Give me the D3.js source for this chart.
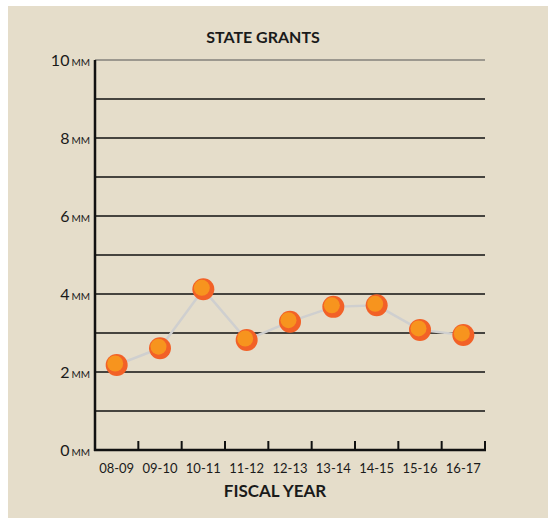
<!DOCTYPE html>
<html><head><meta charset="utf-8">
<script src="https://cdn.jsdelivr.net/npm/d3@7"></script>
<style>body{margin:0;background:#fff}svg{display:block}text{font-family:Lato,"Open Sans",sans-serif;fill:#1a1a1a}</style>
</head><body><svg id="c" width="548" height="518"></svg>
<script>
const years = ["08-09","09-10","10-11","11-12","12-13","13-14","14-15","15-16","16-17"];
const grants = [2.18, 2.61, 4.12, 2.82, 3.29, 3.67, 3.71, 3.08, 2.95];
const yTicks = [0, 2, 4, 6, 8, 10];
const gridValues = [1,2,3,4,5,6,7,8,9,10];

const svg = d3.select("#c");
svg.append("rect").attr("x",8).attr("y",6).attr("width",540).attr("height",512).attr("fill","#e5ddca");

const x = d3.scaleBand().domain(years).range([95,485]);
const y = d3.scaleLinear().domain([0,10]).range([450,60]);

svg.append("text").attr("x",263).attr("y",43).attr("text-anchor","middle")
  .attr("font-size",16).attr("font-weight",700).text("STATE GRANTS");

svg.selectAll("line.grid").data(gridValues).join("line").attr("class","grid")
  .attr("x1",95).attr("x2",485).attr("y1",d=>y(d)).attr("y2",d=>y(d))
  .attr("stroke",d=>d===10?"#555":"#111").attr("stroke-width",d=>d===10?1.2:1.3);

// y axis
svg.append("line").attr("x1",95).attr("x2",95).attr("y1",y(10)).attr("y2",451).attr("stroke","#111").attr("stroke-width",2.5);
// x axis
svg.append("line").attr("x1",94).attr("x2",486).attr("y1",450).attr("y2",450).attr("stroke","#111").attr("stroke-width",2.5);
svg.selectAll("line.tick").data(years).join("line").attr("class","tick")
  .attr("x1",d=>x(d)+x.bandwidth()).attr("x2",d=>x(d)+x.bandwidth())
  .attr("y1",441).attr("y2",450).attr("stroke","#111").attr("stroke-width",2);

const yl = svg.selectAll("text.yl").data(yTicks).join("text").attr("class","yl")
  .attr("x",90).attr("y",d=>y(d)+6).attr("text-anchor","end").attr("font-size",16);
yl.append("tspan").text(d=>d);
yl.append("tspan").attr("font-size",10).attr("dx",2).text("MM");

svg.selectAll("text.xl").data(years).join("text").attr("class","xl")
  .attr("x",d=>x(d)+x.bandwidth()/2).attr("y",473).attr("text-anchor","middle")
  .attr("font-size",13).text(d=>d);

svg.append("text").attr("x",275).attr("y",497).attr("text-anchor","middle")
  .attr("font-size",17).attr("font-weight",700).text("FISCAL YEAR");

const pts = years.map((yr,i)=>({yr, v:grants[i]}));
const line = d3.line().x(d=>x(d.yr)+x.bandwidth()/2).y(d=>y(d.v));
svg.append("path").datum(pts).attr("d",line).attr("fill","none").attr("stroke","#cfcfcf").attr("stroke-width",2.5);

const g = svg.selectAll("g.pt").data(pts).join("g").attr("class","pt")
  .attr("transform",d=>`translate(${x(d.yr)+x.bandwidth()/2},${y(d.v)})`);
g.append("circle").attr("r",11).attr("fill","#f26127");
g.append("circle").attr("cx",-1.5).attr("cy",-1.5).attr("r",8).attr("fill","#f7941e");
</script></body></html>
